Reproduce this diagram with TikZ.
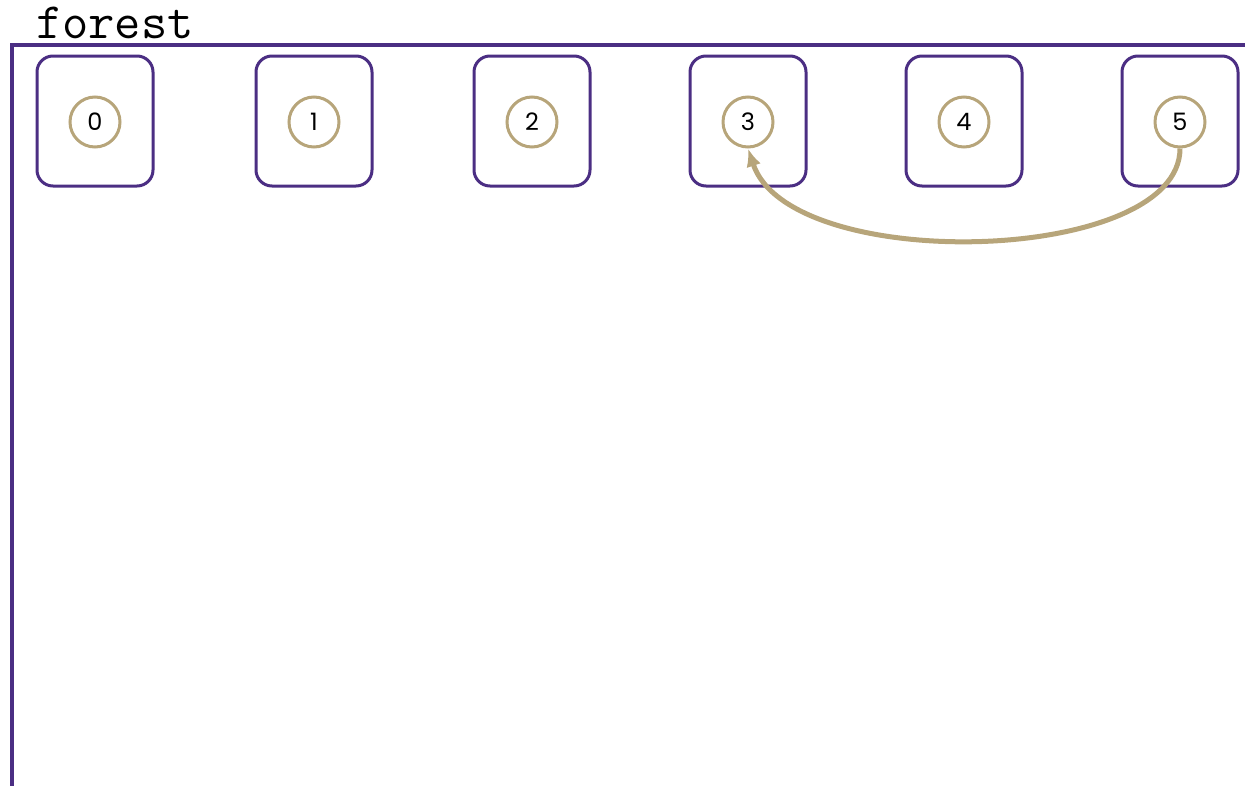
\documentclass[tikz,border=0pt]{standalone}
\usepackage{fontspec}
\newfontfamily\digitfont{Poppins}
\usetikzlibrary{arrows.meta}
\usepackage{xcolor}
\definecolor{forestPurple}{RGB}{75,46,131}
\definecolor{forestGold}{RGB}{183,165,122}

\begin{document}
\begin{tikzpicture}[x=1pt,y=1pt,
    setbox/.style={draw=forestPurple, line width=3pt, rounded corners=16pt,
      minimum width=116pt, minimum height=130pt},
    elem/.style={circle, draw=forestGold, line width=3pt, minimum size=50pt,
      inner sep=0pt, font=\digitfont\fontsize{24}{28}\selectfont}]
    \useasboundingbox (0,0) rectangle (1245,-785);
    \clip (0,0) rectangle (1245,-785);
    \node[anchor=base west, inner sep=0pt, font=\ttfamily\fontsize{51}{54}\selectfont] (label) at (36,-38) {forest};
    \draw[forestPurple, line width=3.5pt] (12,-790) -- (12,-45) -- (1250,-45);
    \foreach \x [count=\i from 0] in {95,314,532,748,964,1180} {
      \node[setbox] (box\i) at (\x,-121) {};
      \node[elem] (tree\i) at (\x,-122) {\i};
    }
    \draw[forestGold, line width=5pt, -{Latex[length=18pt,width=15pt]}]
      (tree5.south) .. controls (1180,-265) and (790,-275) .. (tree3.south);
  \end{tikzpicture}
\end{document}
